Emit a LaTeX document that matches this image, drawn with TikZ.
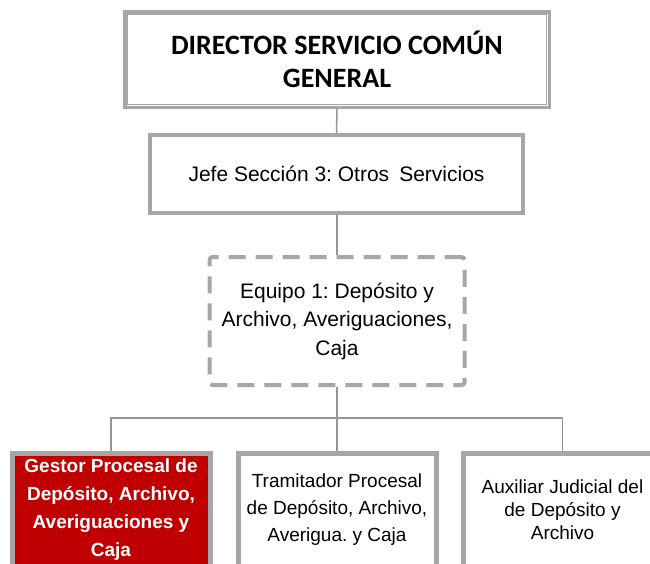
\documentclass[tikz,border=0pt]{standalone}
\usepackage{fontspec}
\setmainfont{Liberation Sans}
\newfontfamily\calibri{Carlito}
\frenchspacing
\definecolor{boxgray}{RGB}{166,166,166}
\definecolor{linegray}{RGB}{150,150,150}
\definecolor{darkred}{RGB}{192,0,0}
\tikzset{
  conn/.style={draw=linegray, line width=1.5pt},
  solidbox/.style={draw=boxgray, line width=4pt, fill=white, inner sep=0pt, align=center},
  leafbox/.style={draw=boxgray, line width=5pt, fill=white, inner sep=0pt, align=center,
     minimum width=198pt, minimum height=113pt},
}
\begin{document}
\begin{tikzpicture}[x=1pt,y=-1pt]
\useasboundingbox (0,0) rectangle (650,563);
\clip (0,0) rectangle (650,563);
\fill[white] (0,0) rectangle (650,563);

% Director
\node[draw=boxgray, line width=3.5pt, fill=white, inner sep=0pt, align=center,
      minimum width=424.5pt, minimum height=95.5pt,
      font=\calibri\bfseries\fontsize{28}{33}\selectfont] (dir) at (337,59.5)
      {DIRECTOR SERVICIO COMÚN\\GENERAL};
\draw[draw=boxgray, line width=1.2pt] ([shift={(4.5,4.5)}]dir.north west) rectangle ([shift={(-4.5,-4.5)}]dir.south east);

% Jefe
\node[solidbox, minimum width=373pt, minimum height=78pt,
      font=\fontsize{21}{26}\selectfont] (jefe) at (336.5,174)
      {Jefe Sección 3: Otros\hspace{0.2em} Servicios};

% Equipo
\node[solidbox, dashed, dash pattern=on 17pt off 10pt, rounded corners=3pt,
      minimum width=255pt, minimum height=128pt,
      font=\fontsize{21}{28.5}\selectfont] (eq) at (337,321)
      {Equipo 1: Depósito y\\Archivo, Averiguaciones,\\Caja};

% Leaves
\node[leafbox, fill=darkred, text=white, font=\bfseries\fontsize{19}{28}\selectfont] (g1) at (111,510)
      {Gestor Procesal de\\Depósito, Archivo,\\Averiguaciones y\\Caja};
\node[leafbox, font=\fontsize{19}{27}\selectfont] (g2) at (337,510)
      {Tramitador Procesal\\de Depósito, Archivo,\\Averigua. y Caja};
\node[leafbox, font=\fontsize{19}{23}\selectfont] (g3) at (562.5,510)
      {Auxiliar Judicial del\\de Depósito y\\Archivo};

% Connectors
\coordinate (bus) at (337,418);
\draw[conn] (dir.south) -- (jefe.north);
\draw[conn] (jefe.south) -- (eq.south |- jefe.south) -- (eq.north);
\draw[conn] (eq.south) -- (bus) -- (g2.north);
\draw[conn] (g1.north) |- (bus) -| (g3.north);
\end{tikzpicture}
\end{document}
